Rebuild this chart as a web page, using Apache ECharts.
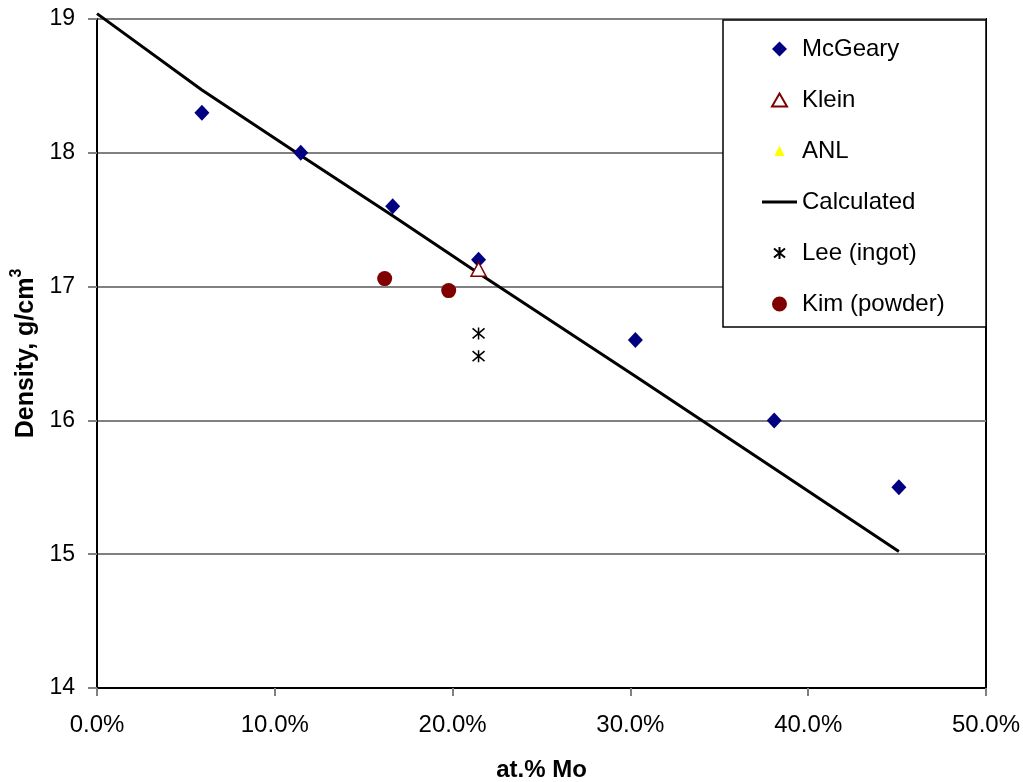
<!DOCTYPE html>
<html>
<head>
<meta charset="utf-8">
<script src="https://cdn.jsdelivr.net/npm/echarts@6/dist/echarts.min.js"></script>
<style>html,body{margin:0;padding:0;background:#fff}#c{width:1023px;height:782px}</style>
</head>
<body>
<div id="c"></div>
<script>
// Data (x in at.% Mo, y in g/cm3)
const mcgearyX = [5.9, 11.46, 16.63, 21.46, 30.28, 38.09, 45.1];
const mcgearyY = [18.30, 18.00, 17.60, 17.20, 16.60, 16.00, 15.50];
const kleinX = [21.46];
const kleinY = [17.13];
const anlX = [];
const anlY = [];
const calcX = [0, 5.9, 11.46, 16.63, 21.46, 30.28, 38.09, 45.1];
const calcY = [19.04, 18.47, 17.98, 17.53, 17.10, 16.33, 15.64, 15.02];
const leeX = [21.46, 21.46];
const leeY = [16.65, 16.48];
const kimX = [16.18, 19.78];
const kimY = [17.06, 16.97];
const xTicks = [0, 10, 20, 30, 40, 50];
const yTicks = [14, 15, 16, 17, 18, 19];

const pairs = (xs, ys) => xs.map((x, i) => [x, ys[i]]);
const FONT = 'Liberation Sans, Arial, sans-serif';
const asterisk = 'path://M0,0L10,10M10,0L0,10M5,-1L5,11';
// legend icons (drawn in a 16x16 box so sizes are kept)
const icoDiamond = 'path://M0,0M16,16M8,0.5L15.5,8L8,15.5L0.5,8Z';
const icoTriangle = 'path://M0,0M16,16M8,1.5L15.5,14.5L0.5,14.5Z';
const icoSmallTri = 'path://M0,0M16,16M8,2.5L13,13L3,13Z';
const icoAsterisk = 'path://M0,0M16,16M2.5,3.5L13.5,12.5M13.5,3.5L2.5,12.5M8,2L8,14';
const icoCircle = 'path://M0,0M16,16M8,0.5A7.5,7.5,0,1,1,7.99,0.5Z';
const icoLine = 'path://M0,0L35,0L35,3L0,3Z';

const chart = echarts.init(document.getElementById('c'), null, {renderer: 'canvas'});
chart.setOption({
  animation: false,
  backgroundColor: '#fff',
  textStyle: {fontFamily: FONT},
  grid: {left: 97, top: 19, right: 37, bottom: 94, show: true, borderColor: '#000', borderWidth: 2,
         backgroundColor: 'transparent', containLabel: false, outerBoundsMode: 'none'},
  xAxis: {
    type: 'value', min: xTicks[0], max: xTicks[xTicks.length - 1], interval: 10,
    name: 'at.% Mo', nameLocation: 'middle', nameGap: 70,
    nameTextStyle: {fontFamily: FONT, fontSize: 24, fontWeight: 'bold', color: '#000'},
    axisLine: {show: true, lineStyle: {color: '#000', width: 2}},
    axisTick: {show: true, inside: false, length: 8, lineStyle: {color: '#808080', width: 2}},
    axisLabel: {margin: 25, fontSize: 24, color: '#000', fontFamily: FONT, formatter: v => v.toFixed(1) + '%'},
    splitLine: {show: false}
  },
  yAxis: {
    type: 'value', min: yTicks[0], max: yTicks[yTicks.length - 1], interval: 1,
    name: '{a|Density, g/cm}{s|3}', nameLocation: 'middle', nameRotate: 90, nameGap: 48,
    nameTextStyle: {
      rich: {
        a: {fontFamily: FONT, fontSize: 25, fontWeight: 'bold', color: '#000', lineHeight: 30, verticalAlign: 'bottom'},
        s: {fontFamily: FONT, fontSize: 16, fontWeight: 'bold', color: '#000', lineHeight: 30, verticalAlign: 'top'}
      }
    },
    axisLine: {show: true, lineStyle: {color: '#000', width: 2}},
    axisTick: {show: true, inside: false, length: 9, lineStyle: {color: '#808080', width: 2}},
    axisLabel: {margin: 22, fontSize: 23, color: '#000', fontFamily: FONT},
    splitLine: {show: true, lineStyle: {color: '#808080', width: 2}}
  },
  legend: {
    orient: 'vertical', left: 723, top: 20,
    padding: [17, 24, 11, 39],
    itemWidth: 35, itemHeight: 16, itemGap: 27,
    symbolKeepAspect: true,
    backgroundColor: '#fff', borderColor: '#000', borderWidth: 1.5,
    textStyle: {fontFamily: FONT, fontSize: 24, color: '#000', lineHeight: 24, width: 160},
    data: [
      {name: 'McGeary', icon: icoDiamond},
      {name: 'Klein', icon: icoTriangle},
      {name: 'ANL', icon: icoSmallTri},
      {name: 'Calculated', icon: icoLine},
      {name: 'Lee (ingot)', icon: icoAsterisk},
      {name: 'Kim (powder)', icon: icoCircle}
    ]
  },
  series: [
    {
      name: 'Calculated', type: 'line', data: pairs(calcX, calcY), clip: false,
      symbol: 'none', lineStyle: {color: '#000', width: 3}, itemStyle: {color: '#000', opacity: 1}, z: 1
    },
    {
      name: 'McGeary', type: 'scatter', data: pairs(mcgearyX, mcgearyY),
      symbol: 'diamond', symbolSize: [15, 16], itemStyle: {color: '#000080', opacity: 1}, z: 3
    },
    {
      name: 'Klein', type: 'scatter', data: pairs(kleinX, kleinY),
      symbol: 'triangle', symbolSize: [15, 14],
      itemStyle: {color: '#fff', borderColor: '#800000', borderWidth: 1.5, opacity: 1}, z: 4
    },
    {
      name: 'ANL', type: 'scatter', data: pairs(anlX, anlY),
      symbol: 'triangle', symbolSize: 10, itemStyle: {color: '#ffff00', opacity: 1}, z: 3
    },
    {
      name: 'Lee (ingot)', type: 'scatter', data: pairs(leeX, leeY),
      symbol: asterisk, symbolSize: 12,
      itemStyle: {color: 'none', borderColor: '#000', borderWidth: 1.5, opacity: 1}, z: 3
    },
    {
      name: 'Kim (powder)', type: 'scatter', data: pairs(kimX, kimY),
      symbol: 'circle', symbolSize: 15, itemStyle: {color: '#800000', opacity: 1}, z: 3
    }
  ]
});
</script>
</body>
</html>
